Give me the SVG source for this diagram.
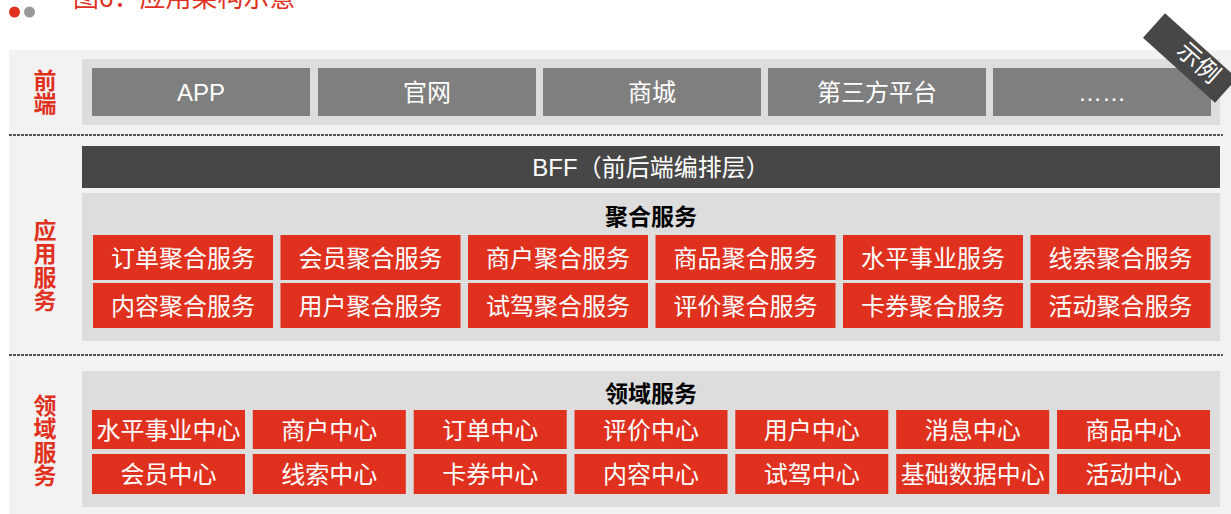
<svg xmlns="http://www.w3.org/2000/svg" width="1231" height="514" viewBox="0 0 1231 514">
<style>
text{font-family:"Liberation Sans","Noto Sans CJK SC",sans-serif;}
.band{fill:#f2f2f2;}
.inner{fill:#dddddd;}
.fe{fill:#7f7f7f;}
.bff{fill:#474747;}
.red{fill:#e0311f;}
.wt{fill:#ffffff;font-size:24px;text-anchor:middle;}
.lab{fill:#e0311f;font-size:23px;font-weight:bold;text-anchor:middle;}
.hd{fill:#000000;font-size:23px;font-weight:bold;text-anchor:middle;}
.dot{stroke:#555555;stroke-width:2;stroke-dasharray:3 1;fill:none;}
</style>
<rect x="0" y="0" width="1231" height="514" fill="#ffffff"/>
<!-- title -->
<g id="title">
<circle cx="14.5" cy="12" r="5.5" fill="#e0311f"/>
<circle cx="29.5" cy="12" r="5.5" fill="#999999"/>
<text x="73" y="6.5" style="fill:#e0311f;font-size:26px;">图6：应用架构示意</text>
</g>
<!-- background band -->
<rect class="band" x="9" y="50" width="1222" height="464"/>
<g id="dividers">
<line class="dot" x1="9" y1="135" x2="1223" y2="135"/>
<line class="dot" x1="9" y1="355" x2="1223" y2="355"/>
</g>
<!-- frontend -->
<g id="layer-frontend">
<text class="lab" x="45" y="88.5">前</text>
<text class="lab" x="45" y="112">端</text>
<rect class="inner" x="82" y="59" width="1138" height="66"/>
</g>
<g id="fe-app"><rect class="fe" x="92" y="68" width="218" height="48"/><text class="wt" x="201" y="101">APP</text></g>
<g id="fe-web"><rect class="fe" x="318" y="68" width="218" height="48"/><text class="wt" x="427" y="101">官网</text></g>
<g id="fe-mall"><rect class="fe" x="543" y="68" width="218" height="48"/><text class="wt" x="652" y="101">商城</text></g>
<g id="fe-third"><rect class="fe" x="768" y="68" width="218" height="48"/><text class="wt" x="877" y="101">第三方平台</text></g>
<g id="fe-more"><rect class="fe" x="993" y="68" width="218" height="48"/><text class="wt" x="1102" y="101">……</text></g>
<!-- application services -->
<g id="layer-app">
<text class="lab" x="45" y="238.5">应</text>
<text class="lab" x="45" y="262">用</text>
<text class="lab" x="45" y="285.5">服</text>
<text class="lab" x="45" y="309">务</text>
</g>
<g id="bff"><rect class="bff" x="82" y="146" width="1138" height="42"/><text class="wt" x="651" y="176">BFF（前后端编排层）</text></g>
<g id="agg">
<rect class="inner" x="82" y="193" width="1138" height="148"/>
<text class="hd" x="651" y="224.5">聚合服务</text>
</g>
<g id="agg-order"><rect class="red" x="93" y="235" width="180" height="45"/><text class="wt" x="183" y="266.5">订单聚合服务</text></g>
<g id="agg-member"><rect class="red" x="280.5" y="235" width="180" height="45"/><text class="wt" x="370.5" y="266.5">会员聚合服务</text></g>
<g id="agg-merchant"><rect class="red" x="468" y="235" width="180" height="45"/><text class="wt" x="558" y="266.5">商户聚合服务</text></g>
<g id="agg-goods"><rect class="red" x="655.5" y="235" width="180" height="45"/><text class="wt" x="745.5" y="266.5">商品聚合服务</text></g>
<g id="agg-horizontal"><rect class="red" x="843" y="235" width="180" height="45"/><text class="wt" x="933" y="266.5">水平事业服务</text></g>
<g id="agg-lead"><rect class="red" x="1030.5" y="235" width="180" height="45"/><text class="wt" x="1120.5" y="266.5">线索聚合服务</text></g>
<g id="agg-content"><rect class="red" x="93" y="283" width="180" height="45"/><text class="wt" x="183" y="314.5">内容聚合服务</text></g>
<g id="agg-user"><rect class="red" x="280.5" y="283" width="180" height="45"/><text class="wt" x="370.5" y="314.5">用户聚合服务</text></g>
<g id="agg-testdrive"><rect class="red" x="468" y="283" width="180" height="45"/><text class="wt" x="558" y="314.5">试驾聚合服务</text></g>
<g id="agg-review"><rect class="red" x="655.5" y="283" width="180" height="45"/><text class="wt" x="745.5" y="314.5">评价聚合服务</text></g>
<g id="agg-coupon"><rect class="red" x="843" y="283" width="180" height="45"/><text class="wt" x="933" y="314.5">卡券聚合服务</text></g>
<g id="agg-activity"><rect class="red" x="1030.5" y="283" width="180" height="45"/><text class="wt" x="1120.5" y="314.5">活动聚合服务</text></g>
<!-- domain services -->
<g id="layer-domain">
<text class="lab" x="45" y="413.5">领</text>
<text class="lab" x="45" y="437">域</text>
<text class="lab" x="45" y="460.5">服</text>
<text class="lab" x="45" y="484">务</text>
</g>
<g id="domain">
<rect class="inner" x="82" y="371" width="1138" height="136"/>
<text class="hd" x="651" y="402">领域服务</text>
</g>
<g id="d-horizontal"><rect class="red" x="92" y="410" width="153" height="39"/><text class="wt" x="168.5" y="438.5">水平事业中心</text></g>
<g id="d-merchant"><rect class="red" x="252.8" y="410" width="153" height="39"/><text class="wt" x="329.3" y="438.5">商户中心</text></g>
<g id="d-order"><rect class="red" x="413.7" y="410" width="153" height="39"/><text class="wt" x="490.2" y="438.5">订单中心</text></g>
<g id="d-review"><rect class="red" x="574.5" y="410" width="153" height="39"/><text class="wt" x="651" y="438.5">评价中心</text></g>
<g id="d-user"><rect class="red" x="735.3" y="410" width="153" height="39"/><text class="wt" x="811.8" y="438.5">用户中心</text></g>
<g id="d-message"><rect class="red" x="896.2" y="410" width="153" height="39"/><text class="wt" x="972.7" y="438.5">消息中心</text></g>
<g id="d-goods"><rect class="red" x="1057" y="410" width="153" height="39"/><text class="wt" x="1133.5" y="438.5">商品中心</text></g>
<g id="d-member"><rect class="red" x="92" y="454" width="153" height="40"/><text class="wt" x="168.5" y="483">会员中心</text></g>
<g id="d-lead"><rect class="red" x="252.8" y="454" width="153" height="40"/><text class="wt" x="329.3" y="483">线索中心</text></g>
<g id="d-coupon"><rect class="red" x="413.7" y="454" width="153" height="40"/><text class="wt" x="490.2" y="483">卡券中心</text></g>
<g id="d-content"><rect class="red" x="574.5" y="454" width="153" height="40"/><text class="wt" x="651" y="483">内容中心</text></g>
<g id="d-testdrive"><rect class="red" x="735.3" y="454" width="153" height="40"/><text class="wt" x="811.8" y="483">试驾中心</text></g>
<g id="d-basedata"><rect class="red" x="896.2" y="454" width="153" height="40"/><text class="wt" x="972.7" y="483">基础数据中心</text></g>
<g id="d-activity"><rect class="red" x="1057" y="454" width="153" height="40"/><text class="wt" x="1133.5" y="483">活动中心</text></g>
<!-- sample ribbon -->
<g id="ribbon" transform="translate(1154,25.5) rotate(42)">
<rect x="0" y="-16.5" width="97" height="33" fill="#474747"/>
<text x="58" y="6" style="fill:#ffffff;font-size:24px;text-anchor:middle;">示例</text>
</g>
</svg>
